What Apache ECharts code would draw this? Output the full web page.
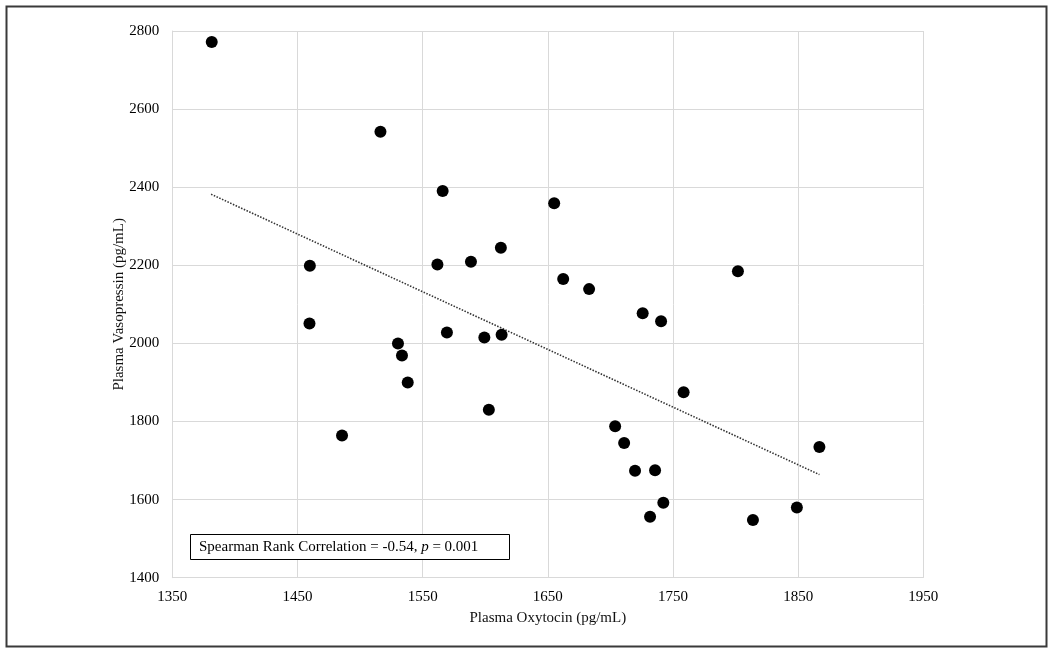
<!DOCTYPE html>
<html>
<head>
<meta charset="utf-8">
<script src="https://cdn.jsdelivr.net/npm/echarts@6/dist/echarts.min.js"></script>
<style>html,body{margin:0;padding:0;background:#fff}#c{width:1050px;height:651px}</style>
</head>
<body>
<div id="c"></div>
<script>
// Data
var oxytocin = [1381.5, 1516.3, 1459.9, 1459.6, 1485.6, 1530.3, 1533.5, 1538.1, 1569.4, 1599.3,
                1602.9, 1613.1, 1566.0, 1561.8, 1588.6, 1612.5, 1655.1, 1662.3, 1683.0, 1725.8,
                1740.5, 1801.9, 1758.5, 1703.8, 1711.0, 1719.7, 1735.7, 1742.3, 1731.7, 1813.9,
                1849.0, 1867.0];
var vasopressin = [2772, 2542, 2199, 2051, 1764, 2000, 1969, 1900, 2028, 2015,
                   1830, 2022, 2390, 2202, 2209, 2245, 2359, 2165, 2139, 2077,
                   2057, 2185, 1875, 1788, 1745, 1674, 1675, 1592, 1556, 1548,
                   1580, 1735];
// Trendline end points
var trendX = [1381, 1867];
var trendY = [2382, 1664];
var xTicks = [1350, 1450, 1550, 1650, 1750, 1850, 1950];
var yTicks = [1400, 1600, 1800, 2000, 2200, 2400, 2600, 2800];
var xTitle = 'Plasma Oxytocin (pg/mL)';
var yTitle = 'Plasma Vasopressin (pg/mL)';

var points = oxytocin.map(function (x, i) { return [x, vasopressin[i]]; });
var trend = trendX.map(function (x, i) { return [x, trendY[i]]; });

var font = 'Liberation Serif, Times New Roman, serif';
var chart = echarts.init(document.getElementById('c'), null, {renderer: 'canvas'});
chart.setOption({
  animation: false,
  backgroundColor: '#fff',
  grid: {left: 172.3, right: 126.7, top: 31, bottom: 73.3, containLabel: false},
  xAxis: {
    type: 'value', min: xTicks[0], max: xTicks[xTicks.length - 1], interval: 100,
    name: xTitle, nameLocation: 'middle', nameGap: 33, nameMoveOverlap: false,
    nameTextStyle: {fontFamily: font, fontSize: 15, color: '#111'},
    axisLine: {show: true, lineStyle: {color: '#d9d9d9', width: 1}},
    axisTick: {show: false},
    axisLabel: {fontFamily: font, fontSize: 15, color: '#000', margin: 12,
                formatter: function (v) { return String(v); }},
    splitLine: {show: true, lineStyle: {color: '#d9d9d9', width: 1}}
  },
  yAxis: {
    type: 'value', min: yTicks[0], max: yTicks[yTicks.length - 1], interval: 200,
    name: yTitle, nameLocation: 'middle', nameGap: 46, nameRotate: 90, nameMoveOverlap: false,
    nameTextStyle: {fontFamily: font, fontSize: 15, color: '#111'},
    axisLine: {show: true, lineStyle: {color: '#d9d9d9', width: 1}},
    axisTick: {show: false},
    axisLabel: {fontFamily: font, fontSize: 15, color: '#000', margin: 13,
                formatter: function (v) { return String(v); }},
    splitLine: {show: true, lineStyle: {color: '#d9d9d9', width: 1}}
  },
  series: [
    {
      type: 'line', data: trend, symbol: 'none', silent: true, z: 1,
      lineStyle: {color: '#333', width: 1.6, type: [1.5, 1.5]}
    },
    {
      type: 'scatter', data: points, symbol: 'circle', symbolSize: 12, z: 2,
      itemStyle: {color: '#000', opacity: 1}
    }
  ],
  graphic: [
    {type: 'rect', left: 4, top: 4, shape: {width: 1040, height: 640},
     style: {fill: 'none', stroke: '#3a3a3a', lineWidth: 2}, z: 100},
    {type: 'rect', shape: {x: 190.5, y: 534.5, width: 319, height: 25},
     style: {fill: '#fff', stroke: '#000', lineWidth: 1}, z: 100},
    {type: 'text', x: 199, y: 547, z: 101,
     style: {
       text: '{a|Spearman Rank Correlation = -0.54, }{i|p}{a| = 0.001}',
       verticalAlign: 'middle',
       rich: {
         a: {fontFamily: font, fontSize: 15, fill: '#000'},
         i: {fontFamily: font, fontSize: 15, fontStyle: 'italic', fill: '#000'}
       }
     }}
  ]
});
</script>
</body>
</html>
